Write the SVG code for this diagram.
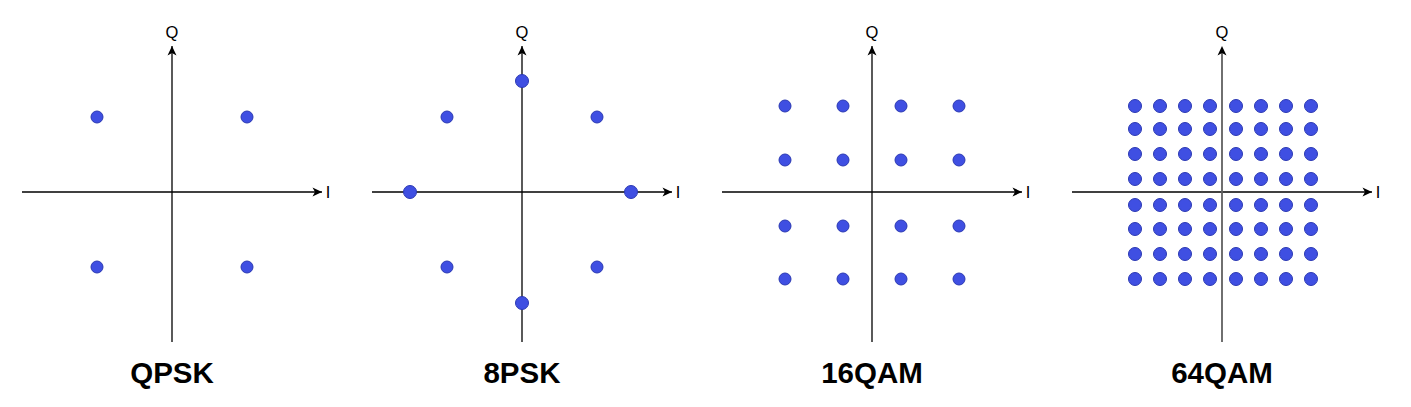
<svg xmlns="http://www.w3.org/2000/svg" width="1411" height="407" viewBox="0 0 1411 407">
<style>
.ax{stroke:#000;stroke-width:1.3;fill:none}
.ax64{stroke:#606060;stroke-width:1.8;fill:none}
.pt{fill:#3F4FE2;stroke:#2B39B3;stroke-width:1}
.axl{font-family:"Liberation Sans",Arial,sans-serif;font-size:16.5px;fill:#000;text-anchor:middle}
.ttl{font-family:"Liberation Sans",Arial,sans-serif;font-size:29.5px;font-weight:bold;fill:#000;text-anchor:middle}
</style>
<defs>
<marker id="arr" viewBox="-10 -5 11 10" markerWidth="11" markerHeight="10" refX="0" refY="0" orient="auto" markerUnits="userSpaceOnUse">
<path d="M0,0 L-9.5,-4.5 L-7,0 L-9.5,4.5 Z" fill="#000"/>
</marker>
</defs>
<rect width="1411" height="407" fill="#fff"/>
<g id="connectors">
<line class="ax" x1="22" y1="192" x2="322" y2="192" marker-end="url(#arr)"/>
<line class="ax" x1="172" y1="342" x2="172" y2="46" marker-end="url(#arr)"/>
<line class="ax" x1="372" y1="192" x2="672" y2="192" marker-end="url(#arr)"/>
<line class="ax" x1="522" y1="342" x2="522" y2="46" marker-end="url(#arr)"/>
<line class="ax" x1="722" y1="192" x2="1022" y2="192" marker-end="url(#arr)"/>
<line class="ax" x1="872" y1="342" x2="872" y2="46" marker-end="url(#arr)"/>
<line class="ax" x1="1072" y1="192" x2="1372" y2="192" marker-end="url(#arr)"/>
<line class="ax64" x1="1222" y1="342" x2="1222" y2="50"/>
<path d="M1222,46 L1217.5,55.5 L1222,53 L1226.5,55.5 Z" fill="#000"/>
</g>
<g id="qpsk">
<text class="axl" x="172" y="38">Q</text>
<text class="axl" x="328" y="198">I</text>
<circle class="pt" cx="97" cy="117" r="6"/>
<circle class="pt" cx="247" cy="117" r="6"/>
<circle class="pt" cx="97" cy="267" r="6"/>
<circle class="pt" cx="247" cy="267" r="6"/>
<text class="ttl" x="172" y="383">QPSK</text>
</g>
<g id="psk8">
<text class="axl" x="522" y="38">Q</text>
<text class="axl" x="678" y="198">I</text>
<circle class="pt" cx="522" cy="81" r="6.5"/>
<circle class="pt" cx="447" cy="117" r="6"/>
<circle class="pt" cx="597" cy="117" r="6"/>
<circle class="pt" cx="410" cy="192" r="6.5"/>
<circle class="pt" cx="631" cy="192" r="6.5"/>
<circle class="pt" cx="447" cy="267" r="6"/>
<circle class="pt" cx="597" cy="267" r="6"/>
<circle class="pt" cx="522" cy="303" r="6.5"/>
<text class="ttl" x="522" y="383">8PSK</text>
</g>
<g id="qam16">
<text class="axl" x="872" y="38">Q</text>
<text class="axl" x="1028" y="198">I</text>
<circle class="pt" cx="785" cy="106" r="6"/>
<circle class="pt" cx="843" cy="106" r="6"/>
<circle class="pt" cx="901" cy="106" r="6"/>
<circle class="pt" cx="959" cy="106" r="6"/>
<circle class="pt" cx="785" cy="160" r="6"/>
<circle class="pt" cx="843" cy="160" r="6"/>
<circle class="pt" cx="901" cy="160" r="6"/>
<circle class="pt" cx="959" cy="160" r="6"/>
<circle class="pt" cx="785" cy="226" r="6"/>
<circle class="pt" cx="843" cy="226" r="6"/>
<circle class="pt" cx="901" cy="226" r="6"/>
<circle class="pt" cx="959" cy="226" r="6"/>
<circle class="pt" cx="785" cy="279" r="6"/>
<circle class="pt" cx="843" cy="279" r="6"/>
<circle class="pt" cx="901" cy="279" r="6"/>
<circle class="pt" cx="959" cy="279" r="6"/>
<text class="ttl" x="872" y="383">16QAM</text>
</g>
<g id="qam64">
<text class="axl" x="1222" y="38">Q</text>
<text class="axl" x="1378" y="198">I</text>
<g id="qam64-row1">
<circle class="pt" cx="1135" cy="106" r="6.5"/><circle class="pt" cx="1160" cy="106" r="6.5"/><circle class="pt" cx="1185" cy="106" r="6.5"/><circle class="pt" cx="1210" cy="106" r="6.5"/><circle class="pt" cx="1236" cy="106" r="6.5"/><circle class="pt" cx="1261" cy="106" r="6.5"/><circle class="pt" cx="1286" cy="106" r="6.5"/><circle class="pt" cx="1311" cy="106" r="6.5"/>
</g>
<g id="qam64-row2">
<circle class="pt" cx="1135" cy="129" r="6.5"/><circle class="pt" cx="1160" cy="129" r="6.5"/><circle class="pt" cx="1185" cy="129" r="6.5"/><circle class="pt" cx="1210" cy="129" r="6.5"/><circle class="pt" cx="1236" cy="129" r="6.5"/><circle class="pt" cx="1261" cy="129" r="6.5"/><circle class="pt" cx="1286" cy="129" r="6.5"/><circle class="pt" cx="1311" cy="129" r="6.5"/>
</g>
<g id="qam64-row3">
<circle class="pt" cx="1135" cy="154" r="6.5"/><circle class="pt" cx="1160" cy="154" r="6.5"/><circle class="pt" cx="1185" cy="154" r="6.5"/><circle class="pt" cx="1210" cy="154" r="6.5"/><circle class="pt" cx="1236" cy="154" r="6.5"/><circle class="pt" cx="1261" cy="154" r="6.5"/><circle class="pt" cx="1286" cy="154" r="6.5"/><circle class="pt" cx="1311" cy="154" r="6.5"/>
</g>
<g id="qam64-row4">
<circle class="pt" cx="1135" cy="179" r="6.5"/><circle class="pt" cx="1160" cy="179" r="6.5"/><circle class="pt" cx="1185" cy="179" r="6.5"/><circle class="pt" cx="1210" cy="179" r="6.5"/><circle class="pt" cx="1236" cy="179" r="6.5"/><circle class="pt" cx="1261" cy="179" r="6.5"/><circle class="pt" cx="1286" cy="179" r="6.5"/><circle class="pt" cx="1311" cy="179" r="6.5"/>
</g>
<g id="qam64-row5">
<circle class="pt" cx="1135" cy="205" r="6.5"/><circle class="pt" cx="1160" cy="205" r="6.5"/><circle class="pt" cx="1185" cy="205" r="6.5"/><circle class="pt" cx="1210" cy="205" r="6.5"/><circle class="pt" cx="1236" cy="205" r="6.5"/><circle class="pt" cx="1261" cy="205" r="6.5"/><circle class="pt" cx="1286" cy="205" r="6.5"/><circle class="pt" cx="1311" cy="205" r="6.5"/>
</g>
<g id="qam64-row6">
<circle class="pt" cx="1135" cy="229" r="6.5"/><circle class="pt" cx="1160" cy="229" r="6.5"/><circle class="pt" cx="1185" cy="229" r="6.5"/><circle class="pt" cx="1210" cy="229" r="6.5"/><circle class="pt" cx="1236" cy="229" r="6.5"/><circle class="pt" cx="1261" cy="229" r="6.5"/><circle class="pt" cx="1286" cy="229" r="6.5"/><circle class="pt" cx="1311" cy="229" r="6.5"/>
</g>
<g id="qam64-row7">
<circle class="pt" cx="1135" cy="254" r="6.5"/><circle class="pt" cx="1160" cy="254" r="6.5"/><circle class="pt" cx="1185" cy="254" r="6.5"/><circle class="pt" cx="1210" cy="254" r="6.5"/><circle class="pt" cx="1236" cy="254" r="6.5"/><circle class="pt" cx="1261" cy="254" r="6.5"/><circle class="pt" cx="1286" cy="254" r="6.5"/><circle class="pt" cx="1311" cy="254" r="6.5"/>
</g>
<g id="qam64-row8">
<circle class="pt" cx="1135" cy="279" r="6.5"/><circle class="pt" cx="1160" cy="279" r="6.5"/><circle class="pt" cx="1185" cy="279" r="6.5"/><circle class="pt" cx="1210" cy="279" r="6.5"/><circle class="pt" cx="1236" cy="279" r="6.5"/><circle class="pt" cx="1261" cy="279" r="6.5"/><circle class="pt" cx="1286" cy="279" r="6.5"/><circle class="pt" cx="1311" cy="279" r="6.5"/>
</g>
<text class="ttl" x="1222" y="383">64QAM</text>
</g>
</svg>
